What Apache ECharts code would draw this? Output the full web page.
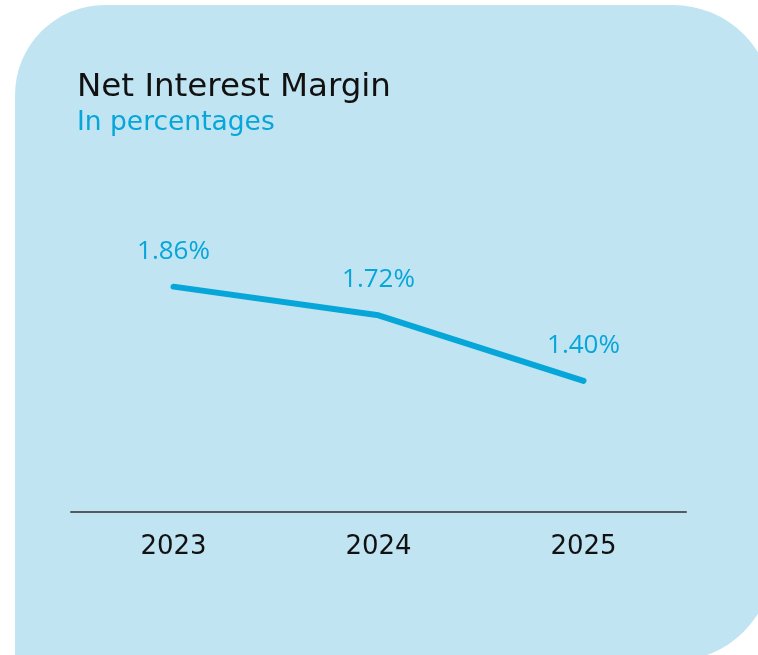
<!DOCTYPE html>
<html>
<head>
<meta charset="utf-8">
<script src="https://cdn.jsdelivr.net/npm/echarts@6/dist/echarts.min.js"></script>
<style>
  html, body { margin: 0; padding: 0; background: #ffffff; }
  #chart { width: 758px; height: 655px; }
</style>
</head>
<body>
<div id="chart"></div>
<script>
// Net interest margin by year, in percent
const years = ['2023', '2024', '2025'];
const margins = [1.86, 1.72, 1.40];

const titleText = 'Net Interest Margin';
const subtitleText = 'In percentages';

const accent = '#06a6d9';
const panelColor = '#c0e4f2';
const mainFont = '"DejaVu Sans", sans-serif';
const valueFont = '"Open Sans", sans-serif';

const chart = echarts.init(document.getElementById('chart'), null, { renderer: 'canvas' });

chart.setOption({
  backgroundColor: '#ffffff',
  animation: false,
  graphic: [
    {
      type: 'rect',
      z: -10,
      silent: true,
      shape: { x: 15, y: 5, width: 758, height: 656, r: [90, 100, 100, 0] },
      style: { fill: panelColor }
    }
  ],
  title: [
    {
      text: titleText,
      left: 72,
      top: 66,
      textStyle: { fontFamily: mainFont, fontSize: 32.5, fontWeight: 'normal', color: '#111111' }
    },
    {
      text: subtitleText,
      left: 72,
      top: 105,
      textStyle: { fontFamily: mainFont, fontSize: 26.5, fontWeight: 'normal', color: accent }
    }
  ],
  grid: { left: 71, right: 72, top: 217, bottom: 143, containLabel: false },
  xAxis: {
    type: 'category',
    data: years,
    boundaryGap: true,
    axisLine: { show: true, lineStyle: { color: '#555a5c', width: 2 } },
    axisTick: { show: false },
    axisLabel: { color: '#111111', fontFamily: mainFont, fontSize: 26, margin: 22 }
  },
  yAxis: {
    type: 'value',
    min: 0.76,
    max: 2.2,
    show: false,
    splitLine: { show: false }
  },
  series: [
    {
      type: 'line',
      data: margins,
      symbol: 'circle',
      symbolSize: 1,
      itemStyle: { color: accent },
      lineStyle: { color: accent, width: 6, cap: 'round', join: 'round' },
      label: {
        show: true,
        position: 'top',
        distance: 22,
        color: accent,
        fontFamily: valueFont,
        fontSize: 26,
        fontWeight: 'normal',
        formatter: p => p.value.toFixed(2) + '%'
      }
    }
  ]
});
</script>
</body>
</html>
